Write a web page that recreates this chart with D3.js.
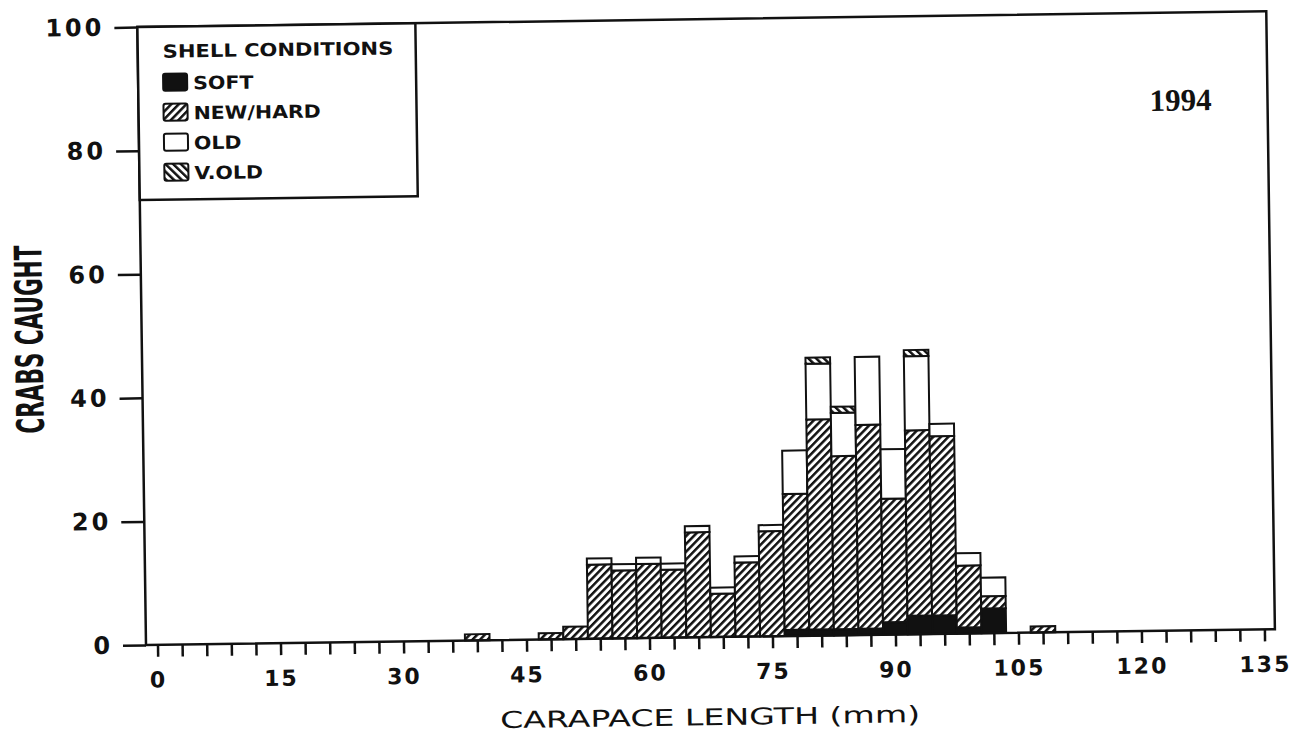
<!DOCTYPE html>
<html>
<head>
<meta charset="utf-8">
<script src="https://cdn.jsdelivr.net/npm/d3@7"></script>
<style>
  body { margin: 0; background: #fff; }
  svg { display: block; }
</style>
</head>
<body>
<svg id="chart" width="1312" height="732"></svg>
<script>
// Carapace length classes (bin centres, mm) and counts per shell condition
const lengthClasses = [39, 48, 51, 54, 57, 60, 63, 66, 69, 72, 75, 78, 81, 84, 87, 90, 93, 96, 99, 102, 108];
const soft    = [0, 0, 0, 0, 0, 0, 0, 0, 0, 0, 0, 1, 1, 1, 1, 2, 3, 3, 1, 4, 0];
const newHard = [1, 1, 2, 12, 11, 12, 11, 17, 7, 12, 17, 22, 34, 28, 33, 20, 30, 29, 10, 2, 1];
const old     = [0, 0, 0, 1, 1, 1, 1, 1, 1, 1, 1, 7, 9, 7, 11, 8, 12, 2, 2, 3, 0];
const veryOld = [0, 0, 0, 0, 0, 0, 0, 0, 0, 0, 0, 0, 1, 1, 0, 0, 1, 0, 0, 0, 0];

const conditionNames = ["SOFT", "NEW/HARD", "OLD", "V.OLD"];
const xTickValues = d3.range(0, 136, 3);
const xTickLabels = [0, 15, 30, 45, 60, 75, 90, 105, 120, 135];
const yTickValues = [0, 20, 40, 60, 80, 100];
const binWidth = 3;
const legendTitle = "SHELL CONDITIONS";
const yearLabel = "1994";
const xTitle = "CARAPACE LENGTH (mm)";
const yTitle = "CRABS CAUGHT";

const series = [soft, newHard, old, veryOld];

const svg = d3.select("#chart");
const defs = svg.append("defs");

// Diagonal hatch fills
function hatch(id, angle) {
  const p = defs.append("pattern")
    .attr("id", id)
    .attr("patternUnits", "userSpaceOnUse")
    .attr("width", 5.4).attr("height", 5.4)
    .attr("patternTransform", `rotate(${angle})`);
  p.append("rect").attr("width", 5.4).attr("height", 5.4).attr("fill", "#fff");
  p.append("rect").attr("width", 2.5).attr("height", 5.4).attr("fill", "#111");
}
hatch("hatchNew", 45);
hatch("hatchVOld", -45);

const fills = ["#111", "url(#hatchNew)", "#fff", "url(#hatchVOld)"];

const frame = { left: 146, right: 1275, top: 27, bottom: 645 };
const x = d3.scaleLinear().domain([0, 135]).range([157.5, 1264.5]);
const y = d3.scaleLinear().domain([0, 100]).range([frame.bottom, frame.top]);

const g = svg.append("g")
  .attr("transform", `rotate(-0.8, ${frame.left}, ${frame.bottom})`);

// Stacked bars
const stacks = lengthClasses.map((c, i) => {
  let base = 0;
  return series.map((s, k) => {
    const seg = { c, k, y0: base, y1: base + s[i] };
    base += s[i];
    return seg;
  }).filter(d => d.y1 > d.y0);
});

g.append("g").selectAll("g")
  .data(stacks)
  .join("g")
  .selectAll("rect")
  .data(d => d)
  .join("rect")
  .attr("x", d => x(d.c - binWidth / 2))
  .attr("width", d => x(d.c + binWidth / 2) - x(d.c - binWidth / 2))
  .attr("y", d => y(d.y1))
  .attr("height", d => y(d.y0) - y(d.y1))
  .attr("fill", d => fills[d.k])
  .attr("stroke", "#111")
  .attr("stroke-width", 2);

// Plot frame
g.append("rect")
  .attr("x", frame.left).attr("y", frame.top)
  .attr("width", frame.right - frame.left)
  .attr("height", frame.bottom - frame.top)
  .attr("fill", "none")
  .attr("stroke", "#111")
  .attr("stroke-width", 2.5);

// X axis
const xAxis = g.append("g")
  .attr("transform", `translate(0,${frame.bottom})`)
  .call(d3.axisBottom(x)
    .tickValues(xTickValues)
    .tickSize(12)
    .tickPadding(15)
    .tickFormat(d => xTickLabels.includes(d) ? d : ""));
xAxis.select(".domain").remove();
xAxis.selectAll(".tick line").attr("stroke", "#111").attr("stroke-width", 2.5);
xAxis.selectAll(".tick text")
  .attr("fill", "#111")
  .style("font-family", "'DejaVu Sans', sans-serif")
  .style("font-weight", "bold")
  .style("font-size", "22px")
  .style("letter-spacing", "2px");

// Y axis
const yAxis = g.append("g")
  .attr("transform", `translate(${frame.left},0)`)
  .call(d3.axisLeft(y)
    .tickValues(yTickValues)
    .tickSize(23)
    .tickPadding(10));
yAxis.select(".domain").remove();
yAxis.selectAll(".tick line").attr("stroke", "#111").attr("stroke-width", 2.5);
yAxis.selectAll(".tick text")
  .attr("fill", "#111")
  .style("font-family", "'DejaVu Sans', sans-serif")
  .style("font-weight", "bold")
  .style("font-size", "24px")
  .style("letter-spacing", "3px");

// Axis titles
g.append("text")
  .attr("x", 709).attr("y", 733)
  .attr("text-anchor", "middle")
  .attr("fill", "#111")
  .attr("textLength", 420)
  .attr("lengthAdjust", "spacingAndGlyphs")
  .style("font-family", "'DejaVu Sans', sans-serif")
  .style("font-size", "23px")
  .text(xTitle);

g.append("text")
  .attr("transform", "translate(47,338) rotate(-90)")
  .attr("text-anchor", "middle")
  .attr("fill", "#111")
  .attr("textLength", 188)
  .attr("lengthAdjust", "spacingAndGlyphs")
  .style("font-family", "'Liberation Sans Narrow', 'DejaVu Sans Condensed', sans-serif")
  .style("font-weight", "bold")
  .style("font-size", "38px")
  .text(yTitle);

// Year label
g.append("text")
  .attr("x", 1157).attr("y", 125)
  .attr("fill", "#111")
  .style("font-family", "'Liberation Serif', serif")
  .style("font-weight", "bold")
  .style("font-size", "31px")
  .text(yearLabel);

// Legend
const legend = g.append("g");
legend.append("rect")
  .attr("x", frame.left).attr("y", frame.top)
  .attr("width", 278).attr("height", 173)
  .attr("fill", "#fff")
  .attr("stroke", "#111")
  .attr("stroke-width", 2.5);

const legendFont = t => t
  .attr("fill", "#111")
  .style("font-family", "'DejaVu Sans', sans-serif")
  .style("font-weight", "bold")
  .style("font-size", "18px");

const stretch = (sel, f) => sel.each(function () {
  const w = this.getComputedTextLength();
  d3.select(this).attr("textLength", w * f).attr("lengthAdjust", "spacingAndGlyphs");
});

legend.append("text")
  .attr("x", 171).attr("y", 58)
  .call(legendFont)
  .text(legendTitle)
  .call(stretch, 1.17);

const items = legend.selectAll("g.item")
  .data(conditionNames)
  .join("g")
  .attr("class", "item")
  .attr("transform", (d, i) => `translate(170,${74 + i * 30})`);

items.append("rect")
  .attr("x", 1).attr("y", 0)
  .attr("width", 24).attr("height", 17)
  .attr("rx", 2)
  .attr("fill", (d, i) => fills[i])
  .attr("stroke", "#111")
  .attr("stroke-width", 2);

items.append("text")
  .attr("x", 31).attr("y", 16)
  .call(legendFont)
  .text(d => d)
  .call(stretch, 1.14);
</script>
</body>
</html>
